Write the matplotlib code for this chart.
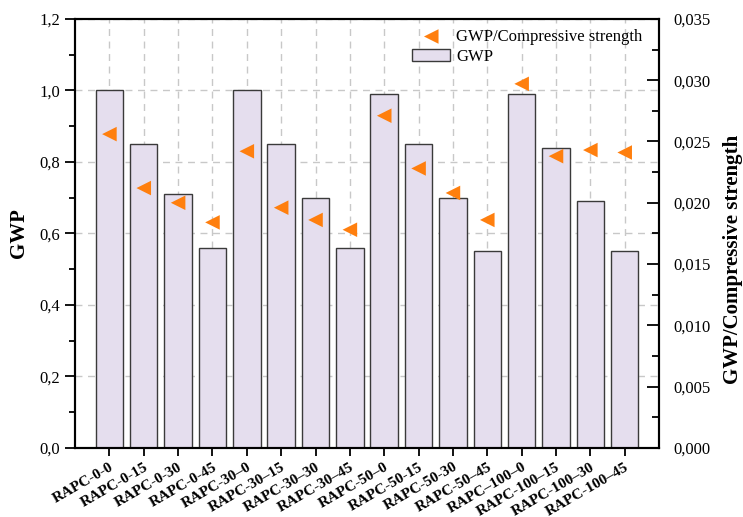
import matplotlib
matplotlib.use("Agg")
import matplotlib.pyplot as plt
from matplotlib.ticker import MultipleLocator, FuncFormatter
import numpy as np

plt.rcParams['font.family'] = ['Liberation Serif', 'DejaVu Serif']

categories = ["RAPC-0-0", "RAPC-0-15", "RAPC-0-30", "RAPC-0-45",
              "RAPC-30\u20130", "RAPC-30\u201315", "RAPC-30\u201330", "RAPC-30\u201345",
              "RAPC-50\u20130", "RAPC-50-15", "RAPC-50-30", "RAPC-50\u201345",
              "RAPC\u2013100\u20130", "RAPC-100\u201315", "RAPC-100\u201330", "RAPC-100\u201345"]
gwp = [1.00, 0.85, 0.71, 0.56, 1.00, 0.85, 0.70, 0.56,
       0.99, 0.85, 0.70, 0.55, 0.99, 0.84, 0.69, 0.55]
gwp_per_strength = [0.0256, 0.0212, 0.0200, 0.0184, 0.0242, 0.0196, 0.0186, 0.0178,
                    0.0271, 0.0228, 0.0208, 0.0186, 0.0297, 0.0238, 0.0243, 0.0241]

fig = plt.figure(figsize=(7.43, 5.17), dpi=100)
ax = fig.add_axes([0.101, 0.1335, 0.786, 0.83])
x = np.arange(len(categories))

ax.set_axisbelow(True)
bars = ax.bar(x, gwp, width=0.8, color='#E5DEEE', edgecolor='#3a3a3a',
              linewidth=1.0, label='GWP', zorder=2)
ax.set_xlim(-1, 16)
ax.set_ylim(0, 1.2)
ax.yaxis.set_major_locator(MultipleLocator(0.2))
ax.yaxis.set_minor_locator(MultipleLocator(0.1))
ax.yaxis.set_major_formatter(FuncFormatter(lambda v, p: f"{v:.1f}".replace('.', ',')))
ax.set_xticks(x)
ax.set_xticklabels(categories, rotation=30, ha='right', rotation_mode='anchor',
                   fontsize=11, fontweight='bold')
ax.grid(True, which='major', linestyle=(0, (5, 4)), color='#c8c8c8', linewidth=1.0, zorder=0)
ax.tick_params(axis='y', which='major', direction='out', length=7, width=1.3, labelsize=12)
ax.tick_params(axis='y', which='minor', direction='out', length=4, width=1.3)
ax.tick_params(axis='x', which='major', direction='out', length=6, width=1.3, pad=3)
for s in ax.spines.values():
    s.set_linewidth(1.5)
ax.set_ylabel('GWP', fontsize=15, fontweight='bold', labelpad=8)

ax2 = ax.twinx()
ax2.set_ylim(0, 0.035)
ax2.yaxis.set_major_locator(MultipleLocator(0.005))
ax2.yaxis.set_minor_locator(MultipleLocator(0.0025))
ax2.yaxis.set_major_formatter(FuncFormatter(lambda v, p: f"{v:.3f}".replace('.', ',')))
ax2.tick_params(axis='y', which='major', direction='in', length=9, width=1.3, labelsize=12, pad=10)
ax2.tick_params(axis='y', which='minor', direction='in', length=5, width=1.3)
for s in ax2.spines.values():
    s.set_linewidth(1.5)
sc = ax2.scatter(x, gwp_per_strength, marker='<', s=110, color='#FF7F0E',
                 edgecolors='none', label='GWP/Compressive strength', zorder=3)
ax2.set_ylabel('GWP/Compressive strength', fontsize=15, fontweight='bold')
ax2.yaxis.set_label_coords(1.11, 0.44)

leg = ax2.legend(handles=[sc, bars], loc='upper left', bbox_to_anchor=(0.56, 1.0),
                 frameon=False, fontsize=12, handlelength=2.3, handletextpad=0.35,
                 borderaxespad=0.2, labelspacing=0.25)

fig.savefig('out.png', dpi=100)
